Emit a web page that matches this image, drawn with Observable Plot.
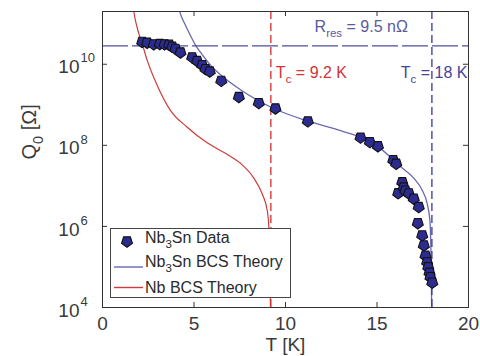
<!DOCTYPE html>
<html><head><meta charset="utf-8">
<script src="https://cdn.jsdelivr.net/npm/d3@7"></script>
<script src="https://cdn.jsdelivr.net/npm/@observablehq/plot@0.6"></script>
<style>body{margin:0;background:#fff} svg{display:block}</style>
</head><body><div id="chart"></div>
<script>
// ---- data ----
const dataT = [2.17,2.44,2.80,3.13,3.39,3.64,3.81,3.99,4.26,4.90,5.17,5.45,5.63,5.86,6.49,7.45,8.54,9.45,11.22,14.10,14.61,15.05,15.89,16.05,16.38,16.16,16.46,16.55,16.74,17.01,17.28,17.23,17.47,17.56,17.65,17.74,17.80,17.87,17.92,18.02];
const dataQ = [3.55e10,3.39e10,3.09e10,3.16e10,3.09e10,3.02e10,2.69e10,2.40e10,1.95e10,1.48e10,1.20e10,9.5e9,7.6e9,6.6e9,3.9e9,1.55e9,1.10e9,8.1e8,3.9e8,1.55e8,1.20e8,9.5e7,4.3e7,3.5e7,1.23e7,6.6e6,9.1e6,7.6e6,6.5e6,4.8e6,3.0e6,1.2e6,6.0e5,3.4e5,1.9e5,1.3e5,9.8e4,7.2e4,5.6e4,4.1e4];
const nb3snT = [4.15,4.21,4.54,4.90,5.08,5.36,5.90,6.45,7.54,9.36,11.19,13.01,14.83,15.74,16.28,17.01,17.47,17.74,17.89,17.96,17.995];
const nb3snQ = [2.6e11,2.04e11,9.0e10,4.2e10,2.95e10,1.95e10,9.5e9,5.5e9,2.35e9,8.1e8,4.0e8,2.3e8,1.1e8,5.1e7,3.0e7,1.55e7,7.8e6,3.7e6,1.4e6,1.2e5,5e3];
const nbT = [1.65,1.71,1.98,2.17,2.44,2.99,3.72,4.63,5.72,6.81,7.54,8.27,8.73,9.00,9.09,9.19];
const nbQ = [3.2e11,2.0e11,5.8e10,3.2e10,1.26e10,3.0e9,7.2e8,2.8e8,1.15e8,6.0e7,3.6e7,1.55e7,6.3e6,2.5e6,9.5e5,5e3];
const tcValues = [9.2, 18];
const tcLabels = ["T_{c} = 9.2 K", "T_{c} = 18 K"];
const rresQ = 2.84e10;
const rresLabel = "R_{res} = 9.5 nΩ";
const xTicks = [0, 5, 10, 15, 20];
const yTicks = [1e4, 1e6, 1e8, 1e10];
const yTickExp = ["4", "6", "8", "10"];
const xLabel = "T [K]";
const yLabel = "Q_{0} [Ω]";
const legendLabels = ["Nb_{3}Sn Data", "Nb_{3}Sn BCS Theory", "Nb BCS Theory"];

// ---- layout / style ----
const W = 480, H = 356, mL = 102, mR = 12, mT = 11, mB = 49;
const fw = W - mL - mR, fh = H - mT - mB;
const cRed = "#cf3a3a", cBlueLine = "#6868b2", cText = "#3a3a3a";
const font = "'Liberation Sans', Arial, Helvetica, sans-serif";

const pentagon = {draw(ctx, size) {
  const r = Math.sqrt(size / (2.5 * Math.sin(2 * Math.PI / 5)));
  for (let i = 0; i < 5; i++) {
    const a = Math.PI / 2 + i * 2 * Math.PI / 5;
    const x = r * Math.cos(a), y = r * Math.sin(a);
    if (i) ctx.lineTo(x, y); else ctx.moveTo(x, y);
  }
  ctx.closePath();
}};

const data = dataT.map((t, i) => ({T: t, Q: dataQ[i]}));
const nb3sn = nb3snT.map((t, i) => ({T: t, Q: nb3snQ[i]}));
const nb = nbT.map((t, i) => ({T: t, Q: nbQ[i]}));

const plot = Plot.plot({
  width: W, height: H, marginLeft: mL, marginRight: mR, marginTop: mT, marginBottom: mB,
  style: {fontFamily: font, background: "#fff", color: cText},
  x: {domain: [0, 20], axis: null},
  y: {type: "log", domain: [1e4, 2e11], axis: null},
  marks: [
    Plot.line(nb, {x: "T", y: "Q", stroke: cRed, strokeWidth: 1.2, curve: "monotone-x", clip: true}),
    Plot.line(nb3sn, {x: "T", y: "Q", stroke: cBlueLine, strokeWidth: 1.3, curve: "monotone-x", clip: true}),
    Plot.ruleY([rresQ], {stroke: "#4e4ea0", strokeWidth: 1.2, strokeDasharray: "26,4"}),
    Plot.ruleX([tcValues[0]], {stroke: "#d92a2a", strokeWidth: 1.3, strokeDasharray: "8,4"}),
    Plot.ruleX([tcValues[1]], {stroke: "#3535a8", strokeWidth: 1.3, strokeDasharray: "8,4"}),
    Plot.dot(data, {x: "T", y: "Q", symbol: pentagon, r: 5, fill: "#2c2c90", stroke: "#111", strokeWidth: 1.1}),
    Plot.frame({stroke: "#333", strokeWidth: 1}),
    Plot.tickX(xTicks, {x: d => d, insetTop: fh - 5, stroke: "#333"}),
    Plot.tickX(xTicks, {x: d => d, insetBottom: fh - 5, stroke: "#333"}),
    Plot.tickY(yTicks, {y: d => d, insetRight: fw - 5, stroke: "#333"}),
    Plot.tickY(yTicks, {y: d => d, insetLeft: fw - 5, stroke: "#333"}),
    Plot.text(xTicks, {x: d => d, frameAnchor: "bottom", dy: 16, text: d => String(d), fontSize: 19, fill: cText, lineAnchor: "middle"}),
    Plot.text(yTicks, {y: d => d, frameAnchor: "left", dx: -23, dy: 3, text: () => "10", textAnchor: "end", fontSize: 19, fill: cText, lineAnchor: "middle"}),
    Plot.text(yTicks, {y: d => d, frameAnchor: "left", dx: -22, dy: -6, text: (d, i) => yTickExp[i], textAnchor: "start", fontSize: 13, fill: cText, lineAnchor: "middle"}),
    Plot.text([xLabel], {frameAnchor: "bottom", dy: 37, text: d => d, fontSize: 19, fill: cText, lineAnchor: "middle"}),
    Plot.text([yLabel], {frameAnchor: "left", dx: -73, rotate: -90, text: d => d, fontSize: 20, fill: cText, lineAnchor: "middle"}),
    Plot.text([tcLabels[0]], {x: tcValues[0], frameAnchor: "top", dx: 5, dy: 61, text: d => d, textAnchor: "start", fontSize: 16, fill: "#d03535", lineAnchor: "middle"}),
    Plot.text([tcLabels[1]], {x: 20, frameAnchor: "top", dx: -1, dy: 61, text: d => d, textAnchor: "end", fontSize: 16, fill: "#45459a", lineAnchor: "middle"}),
    Plot.text([rresLabel], {x: tcValues[1], y: rresQ, dx: -24, dy: -19, text: d => d, textAnchor: "end", fontSize: 16, fill: "#5a5a9e", lineAnchor: "middle"})
  ]
});
document.getElementById("chart").appendChild(plot);

// ---- legend ----
const svg = d3.select(plot);
const lg = svg.append("g").attr("font-family", font).attr("font-size", 16).attr("text-anchor", "start");
lg.append("rect").attr("x", 110.5).attr("y", 228.5).attr("width", 180).attr("height", 69)
  .attr("fill", "#fff").attr("stroke", "#444").attr("stroke-width", 1);
const rowText = [237, 261, 287.5], rowMark = [241.5, 267, 287.5];
lg.append("path").attr("d", d3.symbol(pentagon, 78)()).attr("transform", `translate(127,${rowMark[0]})`)
  .attr("fill", "#2c2c90").attr("stroke", "#111").attr("stroke-width", 1.1);
lg.append("line").attr("x1", 114).attr("x2", 143).attr("y1", rowMark[1]).attr("y2", rowMark[1]).attr("stroke", cBlueLine).attr("stroke-width", 1.4);
lg.append("line").attr("x1", 114).attr("x2", 143).attr("y1", rowMark[2]).attr("y2", rowMark[2]).attr("stroke", cRed).attr("stroke-width", 1.4);
legendLabels.forEach((s, i) => {
  lg.append("text").attr("x", 145).attr("y", rowText[i]).attr("dy", "0.35em").attr("fill", "#2a2a2a").text(s);
});

// ---- subscripts ----
svg.selectAll("text").each(function() {
  const el = this, s = el.textContent;
  if (!s.includes("_{")) return;
  const fs = parseFloat(getComputedStyle(el).fontSize) || 16;
  const shift = 0.33 * fs;
  el.textContent = "";
  const parts = s.split(/(_\{[^}]*\})/).filter(p => p.length);
  let down = false;
  parts.forEach(p => {
    const t = document.createElementNS("http://www.w3.org/2000/svg", "tspan");
    if (p.startsWith("_{")) {
      t.textContent = p.slice(2, -1);
      t.setAttribute("font-size", (fs * 0.72).toFixed(1));
      t.setAttribute("dy", shift.toFixed(1));
      down = true;
    } else {
      t.textContent = p;
      if (down) { t.setAttribute("dy", (-shift).toFixed(1)); down = false; }
    }
    el.appendChild(t);
  });
});
</script>
</body></html>
